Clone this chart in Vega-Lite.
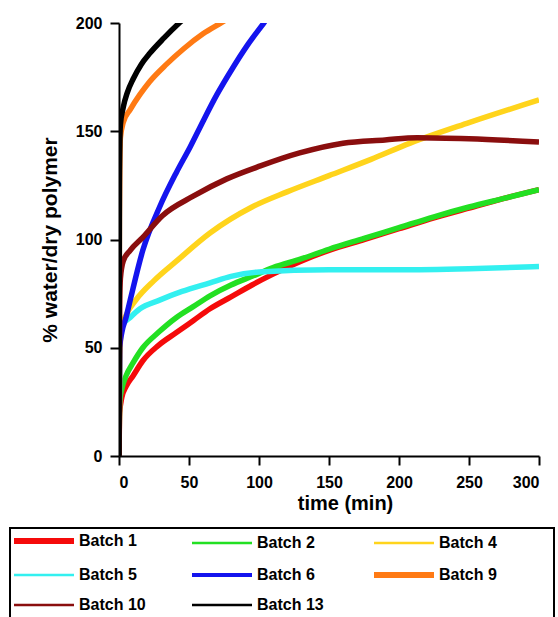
{
  "$schema": "https://vega.github.io/schema/vega-lite/v6.json",
  "width": 420,
  "height": 433,
  "autosize": {"type": "none"},
  "padding": {"left": 119, "top": 23, "right": 19, "bottom": 161},
  "background": "white",
  "config": {"view": {"stroke": null}, "font": "Liberation Sans"},
  "data": {"values": [
    {"b":"Batch 1","t":0,"v":0},{"b":"Batch 1","t":0.5,"v":20},{"b":"Batch 1","t":2,"v":27},{"b":"Batch 1","t":5,"v":32},{"b":"Batch 1","t":10,"v":37},{"b":"Batch 1","t":17,"v":44},{"b":"Batch 1","t":28,"v":51},{"b":"Batch 1","t":41,"v":57},{"b":"Batch 1","t":53,"v":62.5},{"b":"Batch 1","t":65,"v":68},{"b":"Batch 1","t":80,"v":73.5},{"b":"Batch 1","t":95,"v":79},{"b":"Batch 1","t":110,"v":84},{"b":"Batch 1","t":130,"v":90},{"b":"Batch 1","t":150,"v":95},{"b":"Batch 1","t":175,"v":100},{"b":"Batch 1","t":200,"v":105},{"b":"Batch 1","t":225,"v":110},{"b":"Batch 1","t":250,"v":114.5},{"b":"Batch 1","t":275,"v":119},{"b":"Batch 1","t":300,"v":123},
    {"b":"Batch 2","t":0,"v":0},{"b":"Batch 2","t":0.5,"v":25},{"b":"Batch 2","t":2,"v":31},{"b":"Batch 2","t":5,"v":37},{"b":"Batch 2","t":10,"v":43},{"b":"Batch 2","t":17,"v":50},{"b":"Batch 2","t":28,"v":57},{"b":"Batch 2","t":41,"v":64},{"b":"Batch 2","t":53,"v":69},{"b":"Batch 2","t":65,"v":74},{"b":"Batch 2","t":80,"v":79},{"b":"Batch 2","t":95,"v":83},{"b":"Batch 2","t":110,"v":87},{"b":"Batch 2","t":130,"v":91},{"b":"Batch 2","t":150,"v":95.5},{"b":"Batch 2","t":175,"v":100.5},{"b":"Batch 2","t":200,"v":105.5},{"b":"Batch 2","t":225,"v":110.5},{"b":"Batch 2","t":250,"v":115},{"b":"Batch 2","t":275,"v":119},{"b":"Batch 2","t":300,"v":123},
    {"b":"Batch 5","t":0,"v":0},{"b":"Batch 5","t":0.5,"v":52},{"b":"Batch 5","t":2,"v":60},{"b":"Batch 5","t":8,"v":64},{"b":"Batch 5","t":15,"v":68},{"b":"Batch 5","t":29,"v":72},{"b":"Batch 5","t":45,"v":76},{"b":"Batch 5","t":65,"v":80},{"b":"Batch 5","t":80,"v":83},{"b":"Batch 5","t":100,"v":85},{"b":"Batch 5","t":150,"v":86},{"b":"Batch 5","t":200,"v":86},{"b":"Batch 5","t":250,"v":86.5},{"b":"Batch 5","t":300,"v":87.5},
    {"b":"Batch 4","t":0,"v":0},{"b":"Batch 4","t":0.5,"v":45},{"b":"Batch 4","t":2,"v":60},{"b":"Batch 4","t":5,"v":65},{"b":"Batch 4","t":12,"v":72},{"b":"Batch 4","t":25,"v":81},{"b":"Batch 4","t":41,"v":90},{"b":"Batch 4","t":65,"v":103},{"b":"Batch 4","t":95,"v":115},{"b":"Batch 4","t":120,"v":122},{"b":"Batch 4","t":150,"v":129.5},{"b":"Batch 4","t":180,"v":137},{"b":"Batch 4","t":208,"v":144.5},{"b":"Batch 4","t":250,"v":154},{"b":"Batch 4","t":300,"v":164.5},
    {"b":"Batch 6","t":0,"v":0},{"b":"Batch 6","t":0.5,"v":50},{"b":"Batch 6","t":2,"v":57},{"b":"Batch 6","t":5,"v":64},{"b":"Batch 6","t":8,"v":72},{"b":"Batch 6","t":17,"v":95},{"b":"Batch 6","t":29,"v":115},{"b":"Batch 6","t":41,"v":131},{"b":"Batch 6","t":51,"v":143},{"b":"Batch 6","t":58,"v":152},{"b":"Batch 6","t":70,"v":167},{"b":"Batch 6","t":81,"v":179},{"b":"Batch 6","t":92,"v":190},{"b":"Batch 6","t":104,"v":200.5},{"b":"Batch 6","t":110,"v":206},
    {"b":"Batch 9","t":0,"v":0},{"b":"Batch 9","t":0.3,"v":110},{"b":"Batch 9","t":0.6,"v":135},{"b":"Batch 9","t":1,"v":147},{"b":"Batch 9","t":3,"v":154},{"b":"Batch 9","t":8,"v":160},{"b":"Batch 9","t":15,"v":167},{"b":"Batch 9","t":22,"v":173},{"b":"Batch 9","t":34,"v":181},{"b":"Batch 9","t":46,"v":188},{"b":"Batch 9","t":60,"v":195},{"b":"Batch 9","t":74,"v":200.5},{"b":"Batch 9","t":85,"v":205},
    {"b":"Batch 10","t":0,"v":0},{"b":"Batch 10","t":0.5,"v":70},{"b":"Batch 10","t":1,"v":82},{"b":"Batch 10","t":3,"v":90},{"b":"Batch 10","t":8,"v":95},{"b":"Batch 10","t":17,"v":101},{"b":"Batch 10","t":31,"v":111},{"b":"Batch 10","t":53,"v":120},{"b":"Batch 10","t":77,"v":128},{"b":"Batch 10","t":101,"v":134},{"b":"Batch 10","t":129,"v":140},{"b":"Batch 10","t":160,"v":144.5},{"b":"Batch 10","t":190,"v":146},{"b":"Batch 10","t":213,"v":147},{"b":"Batch 10","t":250,"v":146.5},{"b":"Batch 10","t":300,"v":145},
    {"b":"Batch 13","t":0,"v":0},{"b":"Batch 13","t":0.3,"v":125},{"b":"Batch 13","t":0.6,"v":145},{"b":"Batch 13","t":1,"v":153},{"b":"Batch 13","t":3,"v":161},{"b":"Batch 13","t":6,"v":168},{"b":"Batch 13","t":10,"v":174},{"b":"Batch 13","t":16,"v":181},{"b":"Batch 13","t":22,"v":186},{"b":"Batch 13","t":32,"v":193},{"b":"Batch 13","t":43,"v":200},{"b":"Batch 13","t":50,"v":204}
  ]},
  "mark": {"type": "line", "clip": true, "strokeWidth": 5.5, "interpolate": "monotone"},
  "encoding": {
    "x": {
      "field": "t", "type": "quantitative",
      "scale": {"domain": [0, 300], "nice": false},
      "axis": {
        "values": [0, 50, 100, 150, 200, 250, 300],
        "title": "time (min)", "titleFontSize": 20, "titleFontWeight": "bold", "titleColor": "black",
        "titlePadding": 3, "titleX": 226,
        "labelFontSize": 16, "labelFontWeight": "bold", "labelColor": "black", "labelPadding": 9,
        "tickColor": "black", "tickWidth": 2, "tickSize": 9,
        "domainColor": "black", "domainWidth": 2, "grid": false
      }
    },
    "y": {
      "field": "v", "type": "quantitative",
      "scale": {"domain": [0, 200], "nice": false},
      "axis": {
        "values": [0, 50, 100, 150, 200],
        "title": "% water/dry polymer", "titleFontSize": 21, "titleFontWeight": "bold", "titleColor": "black",
        "titlePadding": 15,
        "labelFontSize": 16, "labelFontWeight": "bold", "labelColor": "black", "labelPadding": 8,
        "tickColor": "black", "tickWidth": 2, "tickSize": 9,
        "domainColor": "black", "domainWidth": 2, "grid": false
      }
    },
    "color": {
      "field": "b", "type": "nominal",
      "scale": {
        "domain": ["Batch 1", "Batch 2", "Batch 4", "Batch 5", "Batch 6", "Batch 9", "Batch 10", "Batch 13"],
        "range": ["#f50a0a", "#22e022", "#ffd41c", "#33f0f0", "#1414ee", "#ff7a14", "#8a0e0e", "#000000"]
      },
      "legend": {
        "orient": "none", "legendX": -109, "legendY": 505,
        "title": null, "columns": 3, "direction": "horizontal",
        "symbolType": "M-1.8,0H10.2", "symbolSize": 100, "symbolStrokeWidth": 2.5,
        "labelFont": "Liberation Sans", "labelFontSize": 16, "labelFontWeight": "bold", "labelColor": "black",
        "labelOffset": 48, "columnPadding": 38, "rowPadding": 10, "padding": 5, "labelLimit": 400,
        "strokeColor": "black",
        "labelExpr": "datum.label == 'Batch 4' || datum.label == 'Batch 9' ? datum.label + '\u00a0\u00a0\u00a0\u00a0\u00a0\u00a0\u00a0\u00a0\u00a0\u2800' : datum.label",
        "encode": {
          "symbols": {"update": {"strokeWidth": {"signal": "datum.value == 'Batch 1' || datum.value == 'Batch 9' ? 6 : (datum.value == 'Batch 6' ? 4 : 2.5)"}}},
          "legend": {"update": {"strokeWidth": {"value": 2}}}
        }
      }
    }
  }
}
